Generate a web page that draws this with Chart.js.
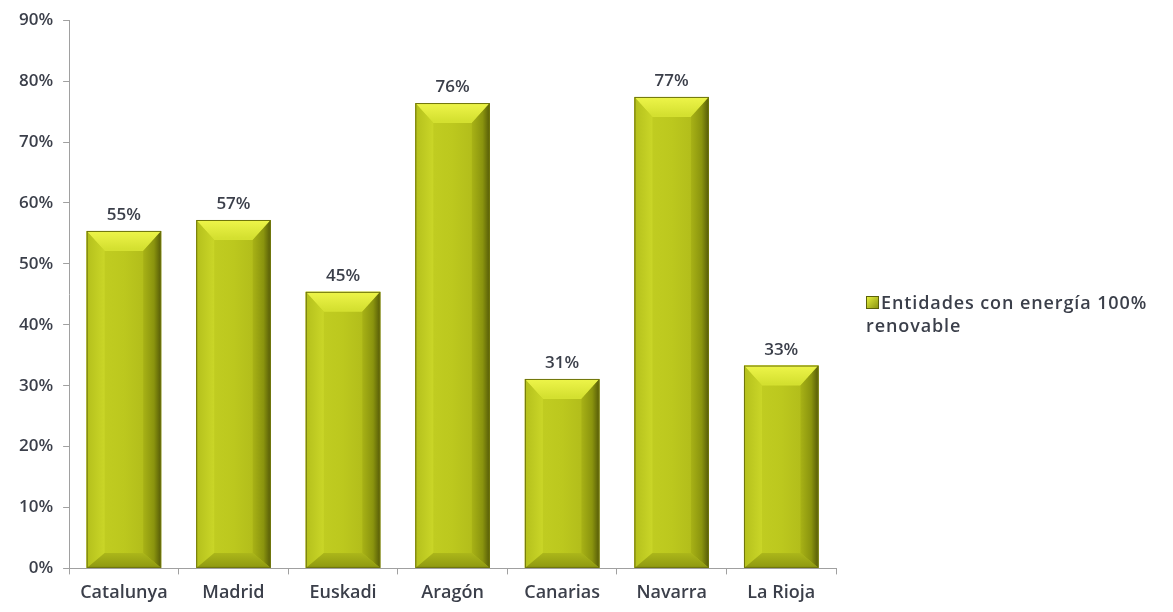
<!DOCTYPE html>
<html>
<head>
<meta charset="utf-8">
<script src="https://cdn.jsdelivr.net/npm/chart.js@4.4.0/dist/chart.umd.min.js"></script>
<style>
body{margin:0;background:#fff;}
#wrap{position:relative;width:1173px;height:612px;}
#legend{position:absolute;left:866px;top:291px;font-family:"Open Sans",sans-serif;font-weight:600;font-size:18px;line-height:23px;letter-spacing:0.9px;color:#3b3f4a;}
#legend span.box{display:inline-block;width:11px;height:11px;background:linear-gradient(135deg,#e4ee3c,#8c9612);border:1px solid #5b610a;margin-right:2px;vertical-align:0px;}
</style>
</head>
<body>
<div id="wrap">
<canvas id="chart" width="1173" height="612"></canvas>
<div id="legend"><span class="box"></span>Entidades con energía 100%<br>renovable</div>
</div>
<script>
const categories=["Catalunya","Madrid","Euskadi","Aragón","Canarias","Navarra","La Rioja"];
const values=[55.4,57.2,45.4,76.4,31.1,77.4,33.3];
const yTicks=[0,10,20,30,40,50,60,70,80,90];

const textColor="#3b3f4a";
const font="'Open Sans', sans-serif";

const bevel={
id:"bevel",
afterDatasetsDraw(chart){
const ctx=chart.ctx;
chart.getDatasetMeta(0).data.forEach((bar,i)=>{
const l=bar.x-bar.width/2,r=bar.x+bar.width/2,t=bar.y,b=bar.base;
const d=18,db=15;
ctx.save();
// face
let g=ctx.createLinearGradient(l,0,r,0);
g.addColorStop(0,"#c4d024");
g.addColorStop(0.5,"#bcc81e");
g.addColorStop(1,"#aab418");
ctx.fillStyle=g;
ctx.fillRect(l,t,r-l,b-t);
// top
g=ctx.createLinearGradient(0,t,0,t+d);
g.addColorStop(0,"#eef54a");
g.addColorStop(1,"#d4e030");
ctx.fillStyle=g;
ctx.beginPath();ctx.moveTo(l,t);ctx.lineTo(r,t);ctx.lineTo(r-d,t+d+2);ctx.lineTo(l+d,t+d+2);ctx.closePath();ctx.fill();
// left
g=ctx.createLinearGradient(l,0,l+d,0);
g.addColorStop(0,"#b4c01c");
g.addColorStop(1,"#cad628");
ctx.fillStyle=g;
ctx.beginPath();ctx.moveTo(l,t);ctx.lineTo(l+d,t+d+2);ctx.lineTo(l+d,b-db);ctx.lineTo(l,b);ctx.closePath();ctx.fill();
// right
g=ctx.createLinearGradient(r-d,0,r,0);
g.addColorStop(0,"#a8b216");
g.addColorStop(0.6,"#8a940e");
g.addColorStop(1,"#555a08");
ctx.fillStyle=g;
ctx.beginPath();ctx.moveTo(r,t);ctx.lineTo(r,b);ctx.lineTo(r-d,b-db);ctx.lineTo(r-d,t+d+2);ctx.closePath();ctx.fill();
// bottom
g=ctx.createLinearGradient(0,b-db,0,b);
g.addColorStop(0,"#acb71a");
g.addColorStop(1,"#8e9810");
ctx.fillStyle=g;
ctx.beginPath();ctx.moveTo(l,b);ctx.lineTo(l+d,b-db);ctx.lineTo(r-d,b-db);ctx.lineTo(r,b);ctx.closePath();ctx.fill();
// edge
ctx.strokeStyle="#6e740c";
ctx.lineWidth=1;
ctx.strokeRect(l+0.5,t+0.5,r-l-1,b-t-1);
// label
ctx.fillStyle=textColor;
ctx.font="600 17px "+font;
ctx.textAlign="center";
ctx.textBaseline="bottom";
ctx.fillText(Math.round(values[i])+"%",bar.x,t-7);
ctx.restore();
});
}
};

new Chart(document.getElementById("chart"),{
type:"bar",
data:{
labels:categories,
datasets:[{
label:"Entidades con energía 100% renovable",
data:values,
backgroundColor:"#bcc81e",
barPercentage:0.68,
categoryPercentage:1
}]
},
options:{
responsive:false,
animation:false,
layout:{padding:{left:9,right:337,top:12,bottom:0}},
plugins:{legend:{display:false},tooltip:{enabled:false}},
scales:{
x:{
offset:true,
grid:{offset:true,drawOnChartArea:false,color:"#a0a0a0",tickLength:6},
border:{color:"#a0a0a0"},
ticks:{color:textColor,font:{family:font,size:18,weight:"600"},padding:8}
},
y:{
min:0,max:90,
afterBuildTicks(axis){axis.ticks=yTicks.map(v=>({value:v}));},
grid:{drawOnChartArea:false,color:"#a0a0a0",tickLength:6},
border:{color:"#a0a0a0"},
ticks:{color:textColor,font:{family:font,size:17,weight:"600"},padding:10,callback:v=>v+"%"}
}
}
},
plugins:[bevel]
});
</script>
</body>
</html>
